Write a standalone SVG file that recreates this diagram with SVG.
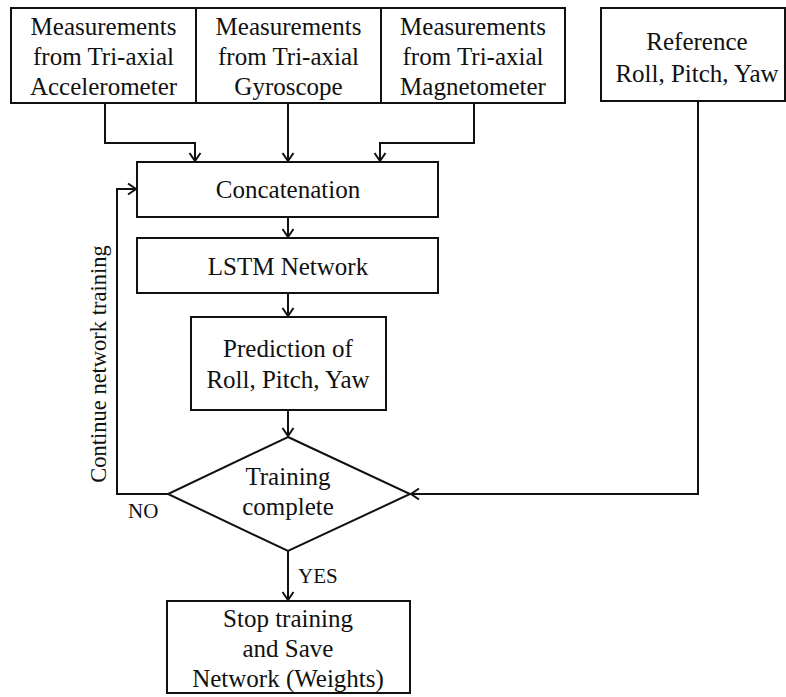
<svg xmlns="http://www.w3.org/2000/svg" width="786" height="697" viewBox="0 0 786 697">
<style>
.box{fill:#fff;stroke:#111;stroke-width:2}
.t{font-family:'Liberation Serif','Times New Roman',Times,'DejaVu Serif',serif;font-size:25px;fill:#111;text-anchor:middle}
.s{font-family:'Liberation Serif','Times New Roman',Times,'DejaVu Serif',serif;font-size:21px;fill:#111}
.r{font-family:'Liberation Serif','Times New Roman',Times,'DejaVu Serif',serif;font-size:22.5px;fill:#111;text-anchor:middle}
.c{fill:none;stroke:#111;stroke-width:2}
</style>
<defs>
<marker id="ah" markerUnits="userSpaceOnUse" markerWidth="14" markerHeight="14" refX="11" refY="7" orient="auto">
<path d="M3,1.5 L11,7 L3,12.5" fill="none" stroke="#111" stroke-width="2"/>
</marker>
</defs>
<rect width="786" height="697" fill="#fff"/>
<g id="connectors">
<path class="c" d="M105,103 V143 H195 V161" marker-end="url(#ah)"/>
<path class="c" d="M288,103 V161" marker-end="url(#ah)"/>
<path class="c" d="M474,103 V143 H380 V161" marker-end="url(#ah)"/>
<path class="c" d="M288,217 V237" marker-end="url(#ah)"/>
<path class="c" d="M288,293 V316" marker-end="url(#ah)"/>
<path class="c" d="M288,410 V436" marker-end="url(#ah)"/>
<path class="c" d="M168,494 H117 V189 H136" marker-end="url(#ah)"/>
<path class="c" d="M698,101 V494 H411" marker-end="url(#ah)"/>
<path class="c" d="M288,551 V600" marker-end="url(#ah)"/>
<text class="s" x="128" y="518">NO</text>
<text class="s" x="298" y="583">YES</text>
<text class="r" transform="translate(106,364) rotate(-90)">Continue network training</text>
</g>
<g id="accel">
<rect class="box" x="11" y="8" width="185" height="95"/>
<text class="t" x="103.5" y="35">Measurements</text>
<text class="t" x="103.5" y="65">from Tri-axial</text>
<text class="t" x="103.5" y="95">Accelerometer</text>
</g>
<g id="gyro">
<rect class="box" x="196" y="8" width="185" height="95"/>
<text class="t" x="288.5" y="35">Measurements</text>
<text class="t" x="288.5" y="65">from Tri-axial</text>
<text class="t" x="288.5" y="95">Gyroscope</text>
</g>
<g id="magnet">
<rect class="box" x="381" y="8" width="184" height="95"/>
<text class="t" x="473" y="35">Measurements</text>
<text class="t" x="473" y="65">from Tri-axial</text>
<text class="t" x="473" y="95">Magnetometer</text>
</g>
<g id="reference">
<rect class="box" x="601" y="8" width="184" height="93"/>
<text class="t" x="697" y="50">Reference</text>
<text class="t" x="697" y="82">Roll, Pitch, Yaw</text>
</g>
<g id="concat">
<rect class="box" x="137" y="162" width="301" height="55"/>
<text class="t" x="288" y="198">Concatenation</text>
</g>
<g id="lstm">
<rect class="box" x="137" y="238" width="301" height="55"/>
<text class="t" x="288" y="275">LSTM Network</text>
</g>
<g id="prediction">
<rect class="box" x="191" y="317" width="195" height="93"/>
<text class="t" x="288" y="357">Prediction of</text>
<text class="t" x="288" y="388">Roll, Pitch, Yaw</text>
</g>
<g id="decision">
<polygon class="box" points="288,437 410,494 288,551 168,494"/>
<text class="t" x="288" y="485">Training</text>
<text class="t" x="288" y="515">complete</text>
</g>
<g id="stop">
<rect class="box" x="167" y="601" width="243" height="92"/>
<text class="t" x="288" y="627">Stop training</text>
<text class="t" x="288" y="657">and Save</text>
<text class="t" x="288" y="687">Network (Weights)</text>
</g>
</svg>
